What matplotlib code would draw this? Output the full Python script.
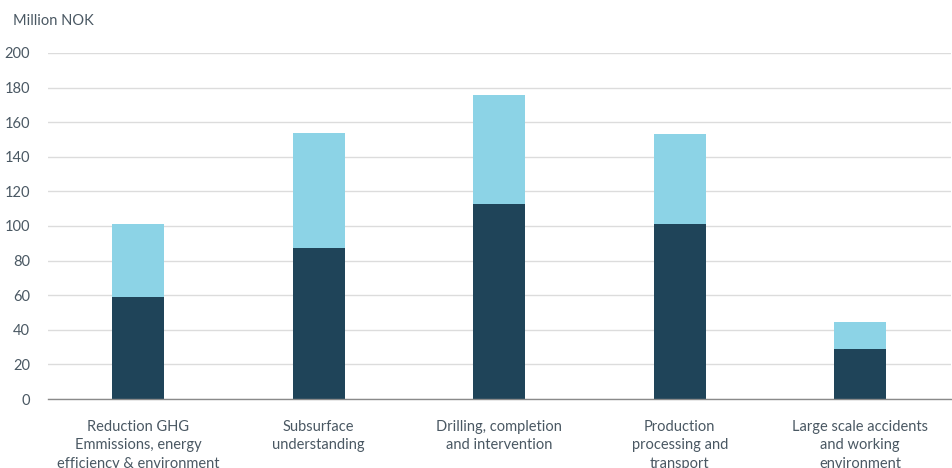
import matplotlib.pyplot as plt

categories = ['Reduction GHG\nEmmissions, energy\nefficiency & environment',
              'Subsurface\nunderstanding',
              'Drilling, completion\nand intervention',
              'Production\nprocessing and\ntransport',
              'Large scale accidents\nand working\nenvironment']
dark_values = [59, 87.5, 112.5, 101, 29]
total_values = [101, 154, 176, 153, 44.5]
light_values = [t - d for t, d in zip(total_values, dark_values)]
y_ticks = [0, 20, 40, 60, 80, 100, 120, 140, 160, 180, 200]

plt.rcParams['font.family'] = ['Lato', 'DejaVu Sans']
text_color = '#4a5863'

fig = plt.figure(figsize=(9.53, 4.68), dpi=100)
ax = fig.add_axes([0.0504, 0.1474, 0.947, 0.7394])

x = range(len(categories))
ax.bar(x, dark_values, 0.29, color='#1f4459', zorder=3)
ax.bar(x, light_values, 0.29, bottom=dark_values, color='#8cd3e6', zorder=3)

ax.set_xlim(-0.5, len(categories) - 0.5)
ax.set_ylim(0, 200)
ax.set_yticks(y_ticks)
ax.set_xticks(list(x))
ax.set_xticklabels(categories, fontsize=10.5, color=text_color, linespacing=1.4)
ax.tick_params(axis='y', labelsize=10.5, labelcolor=text_color, length=0, pad=13)
ax.tick_params(axis='x', length=0, pad=15)

ax.grid(axis='y', color='#dcdcdc', linewidth=1, zorder=0)
for s in ['top', 'right', 'left']:
    ax.spines[s].set_visible(False)
ax.spines['bottom'].set_color('#8a8a8a')
ax.spines['bottom'].set_linewidth(1)
ax.spines['bottom'].set_zorder(4)

fig.text(0.014, 0.955, 'Million NOK', fontsize=10.5, color=text_color, va='center')

fig.savefig('out.png', dpi=100)
